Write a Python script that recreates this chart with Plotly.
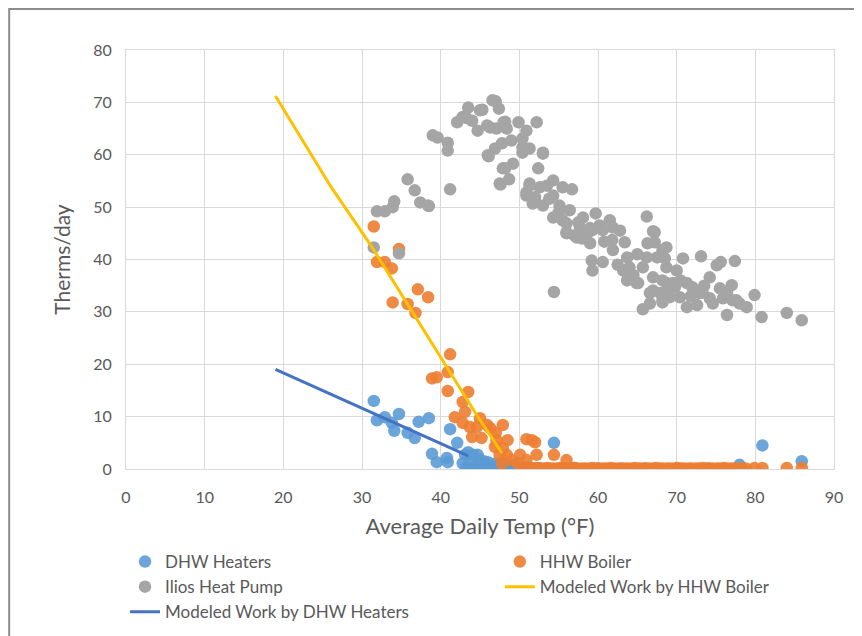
import plotly.graph_objects as go

# ---------------- data ----------------
dhw_temp = [31.5, 31.9, 32.9, 33.8, 34.7, 34.1, 35.8, 36.7, 37.2, 38.5,
            38.9, 39.5, 40.8, 40.9, 41.2, 42.1, 43.1, 43.5, 44.1, 44.7,
            42.8, 43.7, 44.0, 45.0, 46.3, 47.6, 48.8, 45.5, 46.8, 49.5,
            50.5, 51.5, 52.5, 54.4, 55.5, 57.0, 60.0, 63.0, 66.0, 70.0,
            74.0, 78.0, 80.9, 85.9, 45.8, 47.0, 48.2, 43.3,
            44.5, 45.3, 46.0, 46.9, 47.6, 48.4, 49.2, 50.0, 51.0, 44.9]
dhw_therms = [13.0, 9.3, 9.9, 8.8, 10.5, 7.3, 6.9, 5.9, 9.0, 9.7,
              2.9, 1.3, 2.1, 1.3, 7.6, 5.0, 2.7, 3.2, 2.7, 2.7,
              1.1, 1.1, 0.1, 0.8, 0.3, 0.5, 0.3, 1.5, 1.0, 0.5,
              0.3, 0.2, 0.2, 5.0, 0.1, 0.2, 0.1, 0.1, 0.1, 0.1,
              0.1, 0.8, 4.5, 1.5, 0.2, 0.2, 0.1, 0.4,
              0.5, 0.3, 1.3, 0.4, 0.9, 0.3, 0.6, 0.2, 0.3, 1.8]

hhw_temp = [31.5, 34.7, 31.9, 32.9, 33.8, 37.1, 38.4, 33.9, 35.8, 36.8,
            41.2, 38.9, 39.5, 40.9, 40.9, 43.5, 42.8, 43.1, 41.8, 42.8,
            43.7, 45.0, 44.6, 45.9, 46.3, 47.9, 44.0, 45.2, 47.0, 47.1,
            48.5, 46.9, 47.9, 47.5, 48.4, 49.0, 47.8, 50.1, 50.9, 51.6,
            52.0, 52.2, 50.9, 54.4, 56.0, 49.8,
            50.4, 50.8, 51.2, 51.7, 52.1, 52.6, 53.0, 53.5, 53.9, 54.3,
            54.8, 55.2, 55.7, 56.1, 56.6, 57.0, 57.5, 58.0, 58.4, 58.9,
            59.3, 59.8, 60.2, 60.7, 61.1, 61.6, 62.0, 62.5, 62.9, 63.4,
            63.8, 64.3, 64.7, 65.2, 65.6, 66.1, 66.5, 67.0, 67.4, 67.9,
            68.3, 68.8, 69.2, 69.7, 70.1, 70.6, 71.0, 71.5, 71.9, 72.4,
            72.8, 73.3, 73.7, 74.2, 74.6, 75.1, 75.5, 76.0, 76.4, 76.9,
            77.3, 77.8, 78.3, 78.8, 79.9, 80.9, 84.0, 85.9]
hhw_therms = [46.3, 42.0, 39.5, 39.5, 38.3, 34.3, 32.8, 31.8, 31.5, 29.8,
              21.9, 17.3, 17.5, 18.5, 14.9, 14.7, 12.8, 10.9, 9.9, 8.8,
              8.0, 9.7, 8.0, 8.4, 7.8, 8.4, 6.1, 5.9, 6.9, 5.5,
              5.5, 4.2, 4.0, 2.7, 2.7, 1.7, 1.1, 2.7, 5.7, 5.5,
              5.1, 2.7, 1.7, 2.7, 1.7, 1.1,
              0.1, 0.2, 0.1, 0.1, 0.2, 0.1, 0.1, 0.2, 0.1, 0.1,
              0.1, 0.2, 0.1, 0.1, 0.1, 0.2, 0.1, 0.1, 0.1, 0.1,
              0.2, 0.1, 0.1, 0.1, 0.1, 0.2, 0.1, 0.1, 0.1, 0.1,
              0.1, 0.1, 0.2, 0.1, 0.1, 0.1, 0.1, 0.1, 0.2, 0.1,
              0.1, 0.1, 0.1, 0.1, 0.2, 0.1, 0.1, 0.1, 0.1, 0.1,
              0.1, 0.2, 0.1, 0.1, 0.1, 0.1, 0.1, 0.2, 0.1, 0.1,
              0.1, 0.1, 0.1, 0.1, 0.2, 0.2, 0.2, 0.2]

ilios_temp = [31.5, 34.7, 31.9, 32.9, 33.9, 34.1, 35.8, 36.7,
              37.4, 38.5, 39.0, 39.6, 40.9, 40.9, 41.2, 42.1,
              42.8, 43.5, 44.0, 44.7, 45.3, 46.3, 47.0, 47.4,
              48.2, 48.4, 49.9, 52.2, 46.1, 46.9, 47.8, 49.0,
              48.2, 49.2, 47.6, 48.7, 50.9, 50.4, 50.4, 51.3,
              53.0, 52.4, 51.3, 50.9, 52.6, 51.7, 53.0, 54.3,
              55.1, 56.7, 54.3, 55.5, 56.0, 57.0, 54.4, 46.6,
              43.3, 45.0, 45.9, 47.1, 48.0, 50.4, 53.5, 54.3,
              56.4, 56.0, 58.1, 59.7, 59.0, 60.2, 61.5, 61.9,
              59.0, 57.3, 59.2, 59.3, 60.6, 61.8, 61.9, 63.4,
              63.7, 63.2, 63.7, 64.9, 66.2, 67.0, 66.3, 66.2,
              68.2, 68.7, 67.0, 68.2, 65.7, 68.7, 70.8, 73.1,
              75.1, 75.6, 77.4, 74.2, 77.0, 75.5, 79.9, 78.9,
              76.4, 80.8, 84.0, 85.9, 64.0, 65.1, 65.7, 67.5,
              68.7, 70.0, 67.0, 68.2, 69.5, 71.3, 72.0, 72.9,
              66.6, 67.9, 69.1, 70.4, 66.6, 68.2, 71.3, 72.6,
              74.2, 75.9, 77.6, 78.0, 76.4, 74.6, 55.5, 57.7,
              56.0, 59.3, 60.6, 67.2, 67.2, 68.5, 73.3, 77.1,
              47.5, 47.9, 46.0, 53.0, 51.3, 50.9, 38.4, 58.0,
              62.5, 64.5, 69.0, 70.5, 71.8, 73.5, 62.8, 65.0,
              52.0, 53.8, 55.0, 57.5, 58.6, 60.8, 69.8, 72.3]
ilios_therms = [42.3, 41.2, 49.2, 49.2, 50.0, 51.1, 55.3, 53.2,
                50.9, 50.2, 63.7, 63.3, 62.3, 60.8, 53.4, 66.2,
                67.2, 69.0, 66.5, 64.6, 68.6, 65.2, 70.2, 68.8,
                66.3, 65.0, 66.2, 66.2, 59.7, 61.2, 62.2, 62.7,
                57.4, 58.3, 54.3, 55.3, 64.6, 61.4, 60.4, 61.2,
                60.4, 57.4, 54.5, 52.8, 53.8, 50.7, 50.3, 55.1,
                50.3, 53.4, 48.0, 47.5, 45.0, 44.6, 33.8, 70.4,
                67.0, 68.5, 65.6, 65.0, 66.2, 63.1, 54.1, 52.2,
                49.4, 46.9, 48.0, 48.8, 46.0, 46.5, 47.5, 46.1,
                43.1, 44.2, 39.8, 37.9, 39.5, 43.7, 41.8, 43.3,
                40.4, 37.9, 36.0, 35.5, 48.2, 45.4, 43.1, 40.4,
                41.8, 35.5, 34.1, 32.2, 30.5, 42.3, 40.2, 40.6,
                38.9, 39.5, 39.7, 36.6, 35.1, 34.5, 33.2, 30.9,
                29.4, 29.0, 29.8, 28.4, 38.5, 35.5, 38.5, 40.4,
                38.5, 37.9, 36.6, 36.0, 35.5, 35.5, 34.7, 33.6,
                33.6, 33.6, 32.8, 32.8, 31.6, 31.8, 30.9, 31.3,
                32.6, 32.6, 32.2, 31.6, 33.6, 31.6, 53.8, 46.1,
                45.2, 45.6, 45.6, 45.2, 43.3, 40.2, 33.7, 32.2,
                54.5, 57.4, 59.9, 60.2, 54.1, 52.2, 50.3, 44.0,
                39.0, 37.0, 34.0, 36.0, 33.0, 35.0, 45.5, 41.0,
                51.9, 51.6, 49.0, 47.1, 44.9, 43.4, 34.8, 33.9]

model_hhw_temp = [19.0, 26.0, 31.0, 36.0, 41.0, 44.5, 46.5, 47.8]
model_hhw_therms = [71.2, 54.0, 43.0, 31.0, 19.0, 10.5, 6.0, 3.0]

model_dhw_temp = [19.0, 43.5]
model_dhw_therms = [19.0, 2.5]

assert len(dhw_temp) == len(dhw_therms)
assert len(hhw_temp) == len(hhw_therms)
assert len(ilios_temp) == len(ilios_therms)

x_ticks = [0, 10, 20, 30, 40, 50, 60, 70, 80, 90]
y_ticks = [0, 10, 20, 30, 40, 50, 60, 70, 80]

# ---------------- figure ----------------
FONT = "Lato, 'Open Sans', sans-serif"
TXT = "#595959"
GRID = "#D9D9D9"

fig = go.Figure()
fig.add_trace(go.Scatter(x=dhw_temp, y=dhw_therms, mode="markers", name="DHW Heaters",
                         legend="legend", legendrank=1,
                         marker=dict(color="#5B9BD5", size=12.5, opacity=0.9)))
fig.add_trace(go.Scatter(x=hhw_temp, y=hhw_therms, mode="markers", name="HHW Boiler",
                         legend="legend2", legendrank=1,
                         marker=dict(color="#ED7D31", size=12.5, opacity=0.9)))
fig.add_trace(go.Scatter(x=ilios_temp, y=ilios_therms, mode="markers", name="Ilios Heat Pump",
                         legend="legend", legendrank=2,
                         marker=dict(color="#A5A5A5", size=12.5)))
fig.add_trace(go.Scatter(x=model_hhw_temp, y=model_hhw_therms, mode="lines",
                         name="Modeled Work by HHW Boiler", legend="legend2", legendrank=2,
                         line=dict(color="#FFC000", width=3)))
fig.add_trace(go.Scatter(x=model_dhw_temp, y=model_dhw_therms, mode="lines",
                         name="Modeled Work by DHW Heaters", legend="legend", legendrank=3,
                         line=dict(color="#4472C4", width=3)))

leg_common = dict(orientation="v", xref="paper", yref="paper",
                  xanchor="left", yanchor="top", y=-0.179,
                  font=dict(family=FONT, size=17, color=TXT),
                  tracegroupgap=0, bgcolor="rgba(0,0,0,0)", traceorder="normal")

fig.update_layout(
    width=862, height=680,
    margin=dict(l=118, r=36, t=42, b=219),
    paper_bgcolor="white", plot_bgcolor="white",
    font=dict(family=FONT, color=TXT, size=16),
    showlegend=True,
    legend=dict(x=-0.0014, **leg_common),
    legend2=dict(x=0.528, **leg_common),
    xaxis=dict(range=[0, 90], tickvals=x_ticks, showgrid=True, gridcolor=GRID, gridwidth=1,
               zeroline=False, showline=True, linecolor=GRID, linewidth=1, mirror=True,
               ticks="", ticklabelstandoff=14,
               tickfont=dict(size=16, color=TXT),
               title=dict(text="Average Daily Temp (°F)", font=dict(size=22, color=TXT), standoff=13)),
    yaxis=dict(range=[0, 80], tickvals=y_ticks, showgrid=True, gridcolor=GRID, gridwidth=1,
               zeroline=False, showline=True, linecolor=GRID, linewidth=1, mirror=True,
               ticks="", ticklabelstandoff=10,
               tickfont=dict(size=16, color=TXT),
               title=dict(text="Therms/day", font=dict(size=21, color=TXT), standoff=16)),
    shapes=[dict(type="rect", xref="paper", yref="paper",
                 x0=-0.165, x1=1.06, y0=-0.42, y1=1.098,
                 line=dict(color="#8C8C8C", width=2), fillcolor="rgba(0,0,0,0)", layer="below")],
)

fig.write_html("out.html")
